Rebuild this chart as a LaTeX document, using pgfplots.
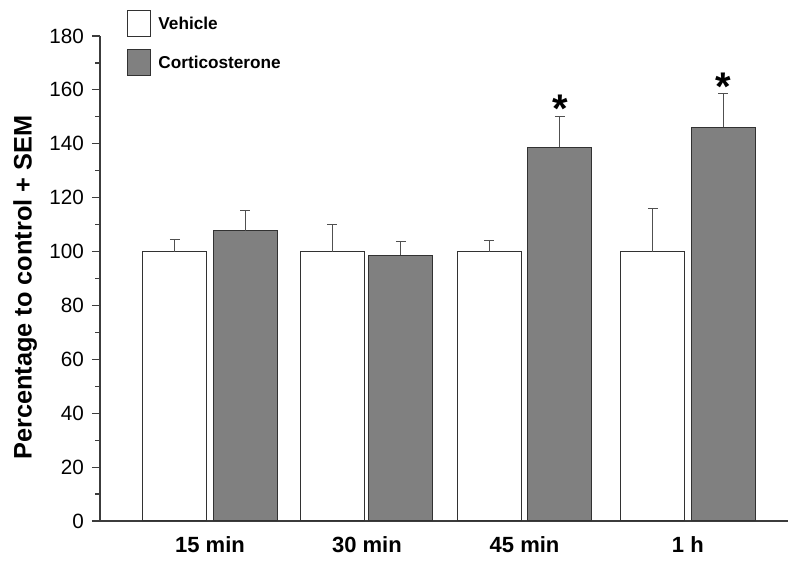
\documentclass[border=0pt]{standalone}
\usepackage{pgfplots}
\pgfplotsset{compat=1.18}
\usepackage{fontspec}
\setmainfont{Liberation Sans}
\definecolor{barg}{RGB}{128,128,128}
\definecolor{edge}{RGB}{50,50,50}
\definecolor{errc}{RGB}{80,80,80}
\definecolor{axc}{RGB}{60,60,60}
\pgfplotsset{legend image code/.code={\draw[#1, line width=0.75pt] (0pt,-9.75pt) rectangle (17.25pt,9.75pt);}}
\begin{document}
\begin{tikzpicture}
\path[use as bounding box] (0,0) rectangle (600pt,422.25pt);
\begin{axis}[
 at={(75pt,31.5pt)}, anchor=south west,
 scale only axis, width=516pt, height=363.75pt,
 xmin=-0.6906, xmax=3.629, ymin=0, ymax=180,
 axis x line*=bottom, axis y line*=left,
 axis line style={draw=axc, line width=1pt},
 xtick={0,0.985,1.975,3},
 xticklabels={15 min,30 min,45 min,1 h},
 xtick style={draw=none},
 x tick label style={font=\fontsize{16.5}{16.5}\selectfont\bfseries, yshift=-2.5pt},
 ytick={0,20,...,180},
 minor y tick num=1,
 ytick style={draw=axc, line width=0.9pt},
 tick align=outside,
 major tick length=6pt, minor tick length=3.5pt,
 y tick label style={font=\fontsize{15.5}{15.5}\selectfont, xshift=-2.5pt},
 /pgf/number format/assume math mode=true,
 ylabel={Percentage to control + SEM},
 ylabel style={font=\fontsize{19}{19}\selectfont\bfseries, at={(axis description cs:-0.109,0.481)}, anchor=center},
 legend style={at={(axis description cs:0.039,1.0536)}, anchor=north west, draw=none, fill=none, inner sep=0pt, row sep=8.6pt, font=\fontsize{12.9}{12.9}\selectfont\bfseries, nodes={inner sep=0pt}},
 legend cell align=left,
 clip=false,
]
\addplot[ybar, bar width=0.402, bar shift=0pt, fill=white, draw=edge, line width=0.75pt,
  error bars/.cd, y dir=plus, y explicit,
  error bar style={draw=errc, line width=0.75pt},
  error mark options={draw=errc, line width=0.75pt, mark size=3.75pt, rotate=90}]
 table[x=x, y=y, y error=e] {
x y e
-0.22 100 4.6
0.769 100 10.1
1.752 100 4.0
2.78 100 15.8
};
\addlegendentry{\hspace*{5.5pt}\raisebox{-1.5pt}{Vehicle}}
\addplot[ybar, bar width=0.402, bar shift=0pt, fill=barg, draw=edge, line width=0.75pt,
  error bars/.cd, y dir=plus, y explicit,
  error bar style={draw=errc, line width=0.75pt},
  error mark options={draw=errc, line width=0.75pt, mark size=3.75pt, rotate=90}]
 table[x=x, y=y, y error=e] {
x y e
0.22 107.8 7.3
1.199 98.7 5.2
2.197 138.7 11.3
3.221 146.1 12.5
};
\addlegendentry{\hspace*{5.5pt}\raisebox{-1.5pt}{Corticosterone}}
\addplot[forget plot, only marks, mark=none, nodes near coords, point meta=explicit symbolic,
  nodes near coords style={font=\fontsize{30}{30}\selectfont\bfseries, anchor=base, inner sep=0pt, text=black}]
 coordinates {(2.197,147.8)[*] (3.221,156)[*]};
\end{axis}
\end{tikzpicture}
\end{document}
